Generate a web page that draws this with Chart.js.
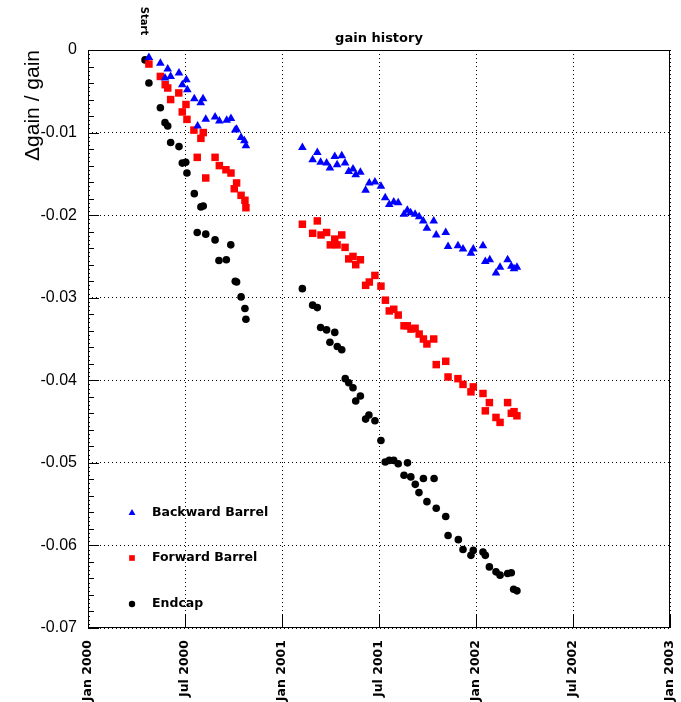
<!DOCTYPE html>
<html>
<head>
<meta charset="utf-8">
<script src="https://cdn.jsdelivr.net/npm/chart.js@4.4.0/dist/chart.umd.min.js"></script>
<style>
html,body{margin:0;padding:0;background:#fff;}
</style>
</head>
<body>
<canvas id="myChart" width="681" height="702"></canvas>
<script>
// tick labels for the time axis (one every half year, x in decimal years)
const xTickLabels=["Jan 2000","Jul 2000","Jan 2001","Jul 2001","Jan 2002","Jul 2002","Jan 2003"];
const startX=2000.30;

const backwardX=[2000.314,2000.373,2000.397,2000.411,2000.426,2000.469,2000.486,2000.507,2000.512,2000.548,2000.565,2000.581,2000.593,2000.607,2000.655,2000.677,2000.715,2000.737,2000.759,2000.766,2000.789,2000.806,2000.814,
  2001.105,2001.158,2001.182,2001.199,2001.230,2001.247,2001.272,2001.284,2001.308,2001.325,2001.344,2001.366,2001.380,2001.404,2001.431,2001.450,2001.479,2001.510,2001.532,2001.553,2001.576,2001.599,2001.629,2001.646,2001.663,2001.686,2001.707,2001.728,2001.747,2001.782,2001.795,2001.844,2001.856,2001.907,2001.933,2001.974,2001.986,2002.036,2002.048,2002.071,2002.103,2002.124,2002.163,2002.182,2002.196,2002.211];
const backwardY=[-0.0009,-0.0016,-0.0034,-0.0023,-0.0032,-0.0028,-0.0042,-0.0036,-0.0048,-0.0059,-0.0092,-0.0064,-0.0059,-0.0084,-0.0081,-0.0086,-0.0085,-0.0083,-0.0097,-0.0096,-0.0106,-0.0110,-0.0116,
  -0.0118,-0.0133,-0.0124,-0.0136,-0.0137,-0.0143,-0.0129,-0.0139,-0.0128,-0.0137,-0.0147,-0.0144,-0.0151,-0.0148,-0.0170,-0.0161,-0.0160,-0.0165,-0.0179,-0.0187,-0.0184,-0.0185,-0.0199,-0.0194,-0.0197,-0.0199,-0.0202,-0.0207,-0.0216,-0.0207,-0.0224,-0.0221,-0.0238,-0.0237,-0.0241,-0.0246,-0.0241,-0.0237,-0.0256,-0.0254,-0.0270,-0.0263,-0.0254,-0.0262,-0.0265,-0.0263];

const forwardX=[2000.314,2000.373,2000.398,2000.411,2000.426,2000.468,2000.486,2000.505,2000.510,2000.546,2000.563,2000.582,2000.594,2000.607,2000.655,2000.677,2000.711,2000.737,2000.754,2000.766,2000.789,2000.809,2000.814,
  2001.105,2001.158,2001.182,2001.201,2001.230,2001.249,2001.272,2001.284,2001.308,2001.325,2001.344,2001.366,2001.380,2001.404,2001.431,2001.450,2001.479,2001.510,2001.533,2001.553,2001.576,2001.599,2001.629,2001.646,2001.665,2001.686,2001.707,2001.729,2001.747,2001.782,2001.795,2001.844,2001.856,2001.907,2001.933,2001.974,2001.986,2002.036,2002.048,2002.069,2002.103,2002.124,2002.163,2002.182,2002.196,2002.211];
const forwardY=[-0.0017,-0.0032,-0.0042,-0.0046,-0.0060,-0.0052,-0.0075,-0.0066,-0.0084,-0.0097,-0.0130,-0.0107,-0.0100,-0.0155,-0.0130,-0.0140,-0.0145,-0.0149,-0.0168,-0.0161,-0.0176,-0.0182,-0.0191,
  -0.0211,-0.0222,-0.0207,-0.0224,-0.0221,-0.0236,-0.0229,-0.0236,-0.0224,-0.0239,-0.0253,-0.0250,-0.0260,-0.0254,-0.0285,-0.0281,-0.0273,-0.0286,-0.0303,-0.0316,-0.0314,-0.0321,-0.0334,-0.0334,-0.0338,-0.0337,-0.0344,-0.0350,-0.0356,-0.0350,-0.0381,-0.0377,-0.0396,-0.0398,-0.0405,-0.0414,-0.0408,-0.0416,-0.0437,-0.0427,-0.0445,-0.0451,-0.0427,-0.0440,-0.0438,-0.0443];

const endcapX=[2000.294,2000.314,2000.373,2000.397,2000.411,2000.426,2000.469,2000.486,2000.504,2000.510,2000.548,2000.563,2000.582,2000.594,2000.607,2000.655,2000.675,2000.713,2000.736,2000.759,2000.766,2000.789,2000.809,2000.814,
  2001.105,2001.158,2001.182,2001.199,2001.230,2001.247,2001.272,2001.285,2001.308,2001.326,2001.344,2001.366,2001.380,2001.404,2001.431,2001.448,2001.479,2001.510,2001.532,2001.553,2001.576,2001.599,2001.629,2001.647,2001.664,2001.687,2001.706,2001.729,2001.747,2001.784,2001.795,2001.844,2001.856,2001.909,2001.933,2001.974,2001.986,2002.036,2002.048,2002.069,2002.103,2002.124,2002.163,2002.182,2002.194,2002.211];
const endcapY=[-0.0012,-0.0040,-0.0070,-0.0088,-0.0092,-0.0112,-0.0117,-0.0137,-0.0136,-0.0149,-0.0174,-0.0221,-0.0190,-0.0189,-0.0223,-0.0230,-0.0255,-0.0254,-0.0236,-0.0280,-0.0281,-0.0299,-0.0313,-0.0326,
  -0.0289,-0.0309,-0.0312,-0.0336,-0.0339,-0.0354,-0.0342,-0.0359,-0.0363,-0.0398,-0.0403,-0.0409,-0.0425,-0.0419,-0.0447,-0.0442,-0.0449,-0.0473,-0.0499,-0.0497,-0.0497,-0.0501,-0.0515,-0.0500,-0.0517,-0.0526,-0.0536,-0.0519,-0.0547,-0.0519,-0.0555,-0.0565,-0.0588,-0.0593,-0.0605,-0.0612,-0.0606,-0.0608,-0.0612,-0.0626,-0.0632,-0.0636,-0.0634,-0.0633,-0.0653,-0.0655];

const toPoints=(xs,ys)=>xs.map((x,i)=>({x:x,y:ys[i]}));

const smallFont="DejaVu Sans";
const axisFont="Liberation Sans";

// frame, inward ticks, titles and legend the ROOT way
const decorations={
  id:"decorations",
  afterDatasetsDraw(chart){
    const ctx=chart.ctx,a=chart.chartArea;
    const xs=chart.scales.x,ys=chart.scales.y;
    ctx.save();
    ctx.strokeStyle="#000";
    ctx.lineWidth=1;
    ctx.strokeRect(a.left+0.5,a.top+0.5,a.right-a.left-1,a.bottom-a.top-1);
    ctx.beginPath();
    for(let i=0;i<=140;i++){
      const v=-i*0.0005;
      const y=Math.round(ys.getPixelForValue(v))+0.5;
      let len=2;
      if(i%20===0) len=11; else if(i%4===0) len=6;
      ctx.moveTo(a.left,y);ctx.lineTo(a.left+len,y);
    }
    for(let i=0;i<=6;i++){
      const x=Math.round(xs.getPixelForValue(2000+i*0.5))+0.5;
      ctx.moveTo(x,a.bottom);ctx.lineTo(x,a.bottom-13);
    }
    ctx.stroke();

    // title
    ctx.fillStyle="#000";
    ctx.font="bold 13px '"+smallFont+"'";
    ctx.textAlign="center";ctx.textBaseline="middle";
    ctx.fillText("gain history",(a.left+a.right)/2,39);

    // start marker
    ctx.save();
    ctx.translate(xs.getPixelForValue(startX)-3,21);
    ctx.rotate(Math.PI/2);
    ctx.font="bold 10px '"+smallFont+"'";
    ctx.fillText("Start",0,0);
    ctx.restore();

    // y axis title
    ctx.save();
    ctx.translate(33,50);
    ctx.rotate(-Math.PI/2);
    ctx.font="21px '"+axisFont+"'";
    ctx.textAlign="right";
    ctx.fillText("\u0394gain / gain",0,0);
    ctx.restore();

    // legend
    const legY=[513,558,604];
    chart.data.datasets.forEach((ds,i)=>{
      ctx.fillStyle=ds.backgroundColor;
      Chart.helpers.drawPoint(ctx,{pointStyle:ds.pointStyle,radius:ds.pointStyle==="circle"?3.2:4,rotation:0,borderWidth:0},132,legY[i]);
      ctx.fillStyle="#000";
      ctx.font="bold 12.5px '"+smallFont+"'";
      ctx.textAlign="left";ctx.textBaseline="middle";
      ctx.fillText(ds.label,152,legY[i]);
    });
    ctx.restore();
  }
};

const ctx=document.getElementById("myChart").getContext("2d");
const myChart=new Chart(ctx,{
  type:"scatter",
  data:{
    datasets:[
      {label:"Backward Barrel",data:toPoints(backwardX,backwardY),pointStyle:"triangle",pointRadius:5,backgroundColor:"#0000ff",borderColor:"#0000ff",borderWidth:0},
      {label:"Forward Barrel",data:toPoints(forwardX,forwardY),pointStyle:"rect",pointRadius:5.3,backgroundColor:"#ff0000",borderColor:"#ff0000",borderWidth:0},
      {label:"Endcap",data:toPoints(endcapX,endcapY),pointStyle:"circle",pointRadius:3.8,backgroundColor:"#000000",borderColor:"#000000",borderWidth:0}
    ]
  },
  options:{
    responsive:false,
    animation:false,
    events:[],
    layout:{padding:{top:50,right:11,left:0,bottom:0}},
    plugins:{legend:{display:false},tooltip:{enabled:false},title:{display:false}},
    scales:{
      x:{
        type:"linear",min:2000,max:2003,
        afterFit:(s)=>{s.height=74;s.paddingLeft=0;s.paddingRight=0;},
        grid:{color:"#000",lineWidth:1,drawTicks:false},
        border:{display:false,dash:[1,3]},
        ticks:{
          stepSize:0.5,padding:12,minRotation:90,maxRotation:90,color:"#000",
          font:{family:smallFont,size:12.5,weight:"bold"},
          callback:(v)=>xTickLabels[Math.round((v-2000)*2)]
        }
      },
      y:{
        type:"linear",min:-0.07,max:0,
        afterFit:(s)=>{s.width=88;s.paddingTop=0;s.paddingBottom=0;},
        grid:{color:"#000",lineWidth:1,drawTicks:false},
        border:{display:false,dash:[1,3]},
        ticks:{
          stepSize:0.01,padding:11,color:"#000",
          font:{family:axisFont,size:16},
          callback:(v)=>Math.abs(v)<1e-9?"0":v.toFixed(2)
        }
      }
    }
  },
  plugins:[decorations]
});
</script>
</body>
</html>
